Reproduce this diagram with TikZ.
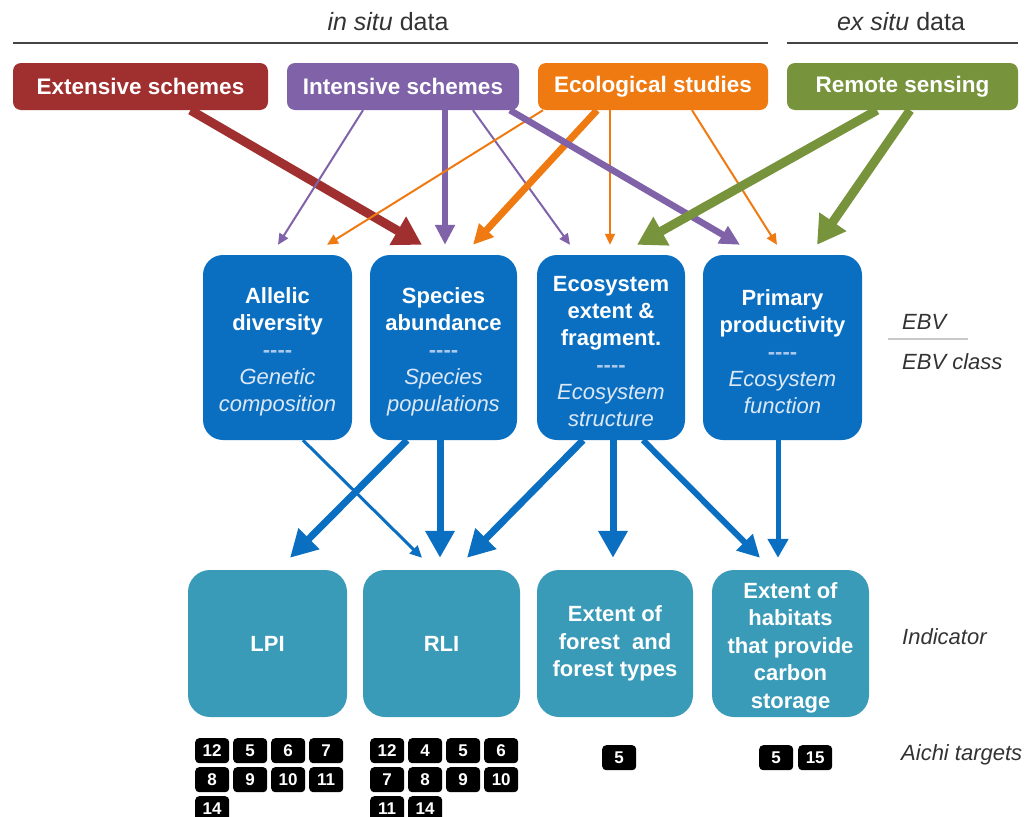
\documentclass[tikz,border=0pt]{standalone}
\usepackage{fontspec}
\setmainfont{Liberation Sans}
\usetikzlibrary{arrows.meta}
\definecolor{cred}{HTML}{A0302F}
\definecolor{cpur}{HTML}{7F62A8}
\definecolor{corg}{HTML}{EF7A12}
\definecolor{cgrn}{HTML}{77933C}
\definecolor{cblue}{HTML}{0B6FC1}
\definecolor{cteal}{HTML}{3A9BB8}
\definecolor{cdash}{HTML}{A9C8EA}
\definecolor{cital}{HTML}{DCE8F6}
\definecolor{clab}{HTML}{333333}
\definecolor{cline}{HTML}{444444}
\definecolor{csep}{HTML}{C8C8C8}
\newcommand{\tallstrut}{\rule{0pt}{24pt}}
\begin{document}
\begin{tikzpicture}[x=1pt,y=-1pt,
  hdr/.style={font=\fontsize{25}{30}\selectfont, text=clab},
  hline/.style={line width=2.5pt, cline},
  src/.style={rounded corners=8pt, minimum height=47pt, text=white, inner sep=0pt,
    font=\bfseries\fontsize{22.5}{27}\selectfont},
  ebv/.style={fill=cblue, rounded corners=20pt, minimum height=185pt, text=white,
    align=center, inner sep=0pt, font=\bfseries\fontsize{22}{27}\selectfont},
  ind/.style={fill=cteal, rounded corners=22pt, minimum height=147pt, text=white,
    align=center, inner sep=0pt, font=\bfseries\fontsize{22}{27.5}\selectfont},
  aichi/.style={fill=black, rounded corners=4pt, minimum width=34pt, minimum height=25pt,
    inner sep=0pt, text=white, anchor=north west, font=\bfseries\fontsize{17}{17}\selectfont},
  lab/.style={font=\itshape\fontsize{22}{26}\selectfont, text=clab, anchor=west, inner sep=0pt},
  thinarr/.style={line width=2pt, -{Triangle[length=11pt,width=10pt]}},
  fatarr/.style={line width=9pt, -{Triangle[length=28pt,width=31pt]}},
  midarr/.style={line width=6.5pt, -{Triangle[length=20pt,width=19pt]}},
  bthick/.style={cblue, line width=7pt, -{Triangle[length=27pt,width=28pt]}},
  bmid/.style={cblue, line width=5pt, -{Triangle[length=19pt,width=20pt]}},
  bthin/.style={cblue, line width=3pt, -{Triangle[length=12pt,width=11pt]}},
]
\useasboundingbox (0,0) rectangle (1029,817);

% headers
\node[hdr] (insitu) at (388,22) {\textit{in situ} data};
\node[hdr] (exsitu) at (901,22) {\textit{ex situ} data};
\draw[hline] (13,43) -- (768,43);
\draw[hline] (787,43) -- (1018,43);

% data sources
\node[src, fill=cred, minimum width=255pt] (ext) at (140.5,86.5) {Extensive schemes};
\node[src, fill=cpur, minimum width=232pt] (int) at (403,86.5) {Intensive schemes};
\node[src, fill=corg, minimum width=230pt] (eco) at (653,86.5) {Ecological studies};
\node[src, fill=cgrn, minimum width=231pt] (rem) at (902.5,86.5) {Remote sensing};

% EBV boxes
\node[ebv, minimum width=149pt] (alle) at (277.5,347.5)
  {\tallstrut Allelic\\diversity\\{\color{cdash}-{}-{}-{}-}\\{\color{cital}\mdseries\itshape Genetic}\\{\color{cital}\mdseries\itshape composition}};
\node[ebv, minimum width=147pt] (spec) at (443.5,347.5)
  {\tallstrut Species\\abundance\\{\color{cdash}-{}-{}-{}-}\\{\color{cital}\mdseries\itshape Species}\\{\color{cital}\mdseries\itshape populations}};
\node[ebv, minimum width=148pt] (ecos) at (611,347.5)
  {\tallstrut Ecosystem\\extent \&\\fragment.\\{\color{cdash}-{}-{}-{}-}\\{\color{cital}\mdseries\itshape Ecosystem}\\{\color{cital}\mdseries\itshape structure}};
\node[ebv, minimum width=159pt] (prim) at (782.5,347.5)
  {\tallstrut Primary\\productivity\\{\color{cdash}-{}-{}-{}-}\\{\color{cital}\mdseries\itshape Ecosystem}\\{\color{cital}\mdseries\itshape function}};

% indicator boxes
\node[ind, minimum width=159pt] (lpi) at (267.5,643.5) {LPI};
\node[ind, minimum width=157pt] (rli) at (441.5,643.5) {RLI};
\node[ind, minimum width=156pt] (fore) at (615,643.5) {Extent of\\forest\ \ and\\forest types};
\node[ind, minimum width=157pt] (habi) at (790.5,643.5) {\tallstrut Extent of\\habitats\\that provide\\carbon\\storage};

% right labels
\node[lab] (lebv) at (902,322) {EBV};
\draw[csep, line width=2pt] (888,339) -- (968,339);
\node[lab] (lcls) at (902,362) {EBV class};
\node[lab] (lind) at (902,637) {Indicator};
\node[lab] (laic) at (901,755) {Aichi targets};

% arrows: sources -> EBVs
\draw[fatarr, cred] ([xshift=50pt]ext.south) -- ([xshift=-21.5pt,yshift=10pt]spec.north);
\draw[thinarr, cpur] ([xshift=-40pt]int.south) -- ([xshift=0.5pt,yshift=10pt]alle.north);
\draw[midarr, cpur] ([xshift=42pt]int.south) -- ([xshift=1.5pt,yshift=10pt]spec.north);
\draw[thinarr, cpur] ([xshift=70pt]int.south) -- ([xshift=-41pt,yshift=10pt]ecos.north);
\draw[thinarr, corg] ([xshift=-110pt]eco.south) -- ([xshift=49.5pt,yshift=10pt]alle.north);
\draw[midarr, corg, line width=7pt] ([xshift=-56pt]eco.south) -- ([xshift=29.5pt,yshift=10pt]spec.north);
\draw[thinarr, corg] ([xshift=-43pt]eco.south) -- ([xshift=-1pt,yshift=10pt]ecos.north);
\draw[thinarr, corg] ([xshift=39pt]eco.south) -- ([xshift=-5.5pt,yshift=10pt]prim.north);
\draw[midarr, cpur] ([xshift=107pt]int.south) -- ([xshift=-42.5pt,yshift=10pt]prim.north);
\draw[fatarr, cgrn] ([xshift=-25.5pt]rem.south) -- ([xshift=26pt,yshift=10pt]ecos.north);
\draw[fatarr, cgrn] ([xshift=7.5pt]rem.south) -- ([xshift=34.5pt,yshift=10pt]prim.north);

% arrows: EBVs -> indicators
\draw[bthin] ([xshift=25.5pt]alle.south) -- ([xshift=-19.5pt,yshift=12pt]rli.north);
\draw[bthick] ([xshift=-36.5pt]spec.south) -- ([xshift=22.5pt,yshift=12pt]lpi.north);
\draw[bthick] ([xshift=-3.5pt]spec.south) -- ([xshift=-1.5pt,yshift=12pt]rli.north);
\draw[bthick] ([xshift=-28pt]ecos.south) -- ([xshift=25.5pt,yshift=12pt]rli.north);
\draw[bthick] ([xshift=2pt]ecos.south) -- ([xshift=-2pt,yshift=12pt]fore.north);
\draw[bthick, line width=6pt, -{Triangle[length=22pt,width=22pt]}] ([xshift=32pt]ecos.south) -- ([xshift=-30.5pt,yshift=12pt]habi.north);
\draw[bmid] ([xshift=-4.5pt]prim.south) -- ([xshift=-12.5pt,yshift=12pt]habi.north);

% Aichi targets
\foreach \t [count=\i from 0] in {12,5,6,7,8,9,10,11,14} {
  \pgfmathtruncatemacro\cc{mod(\i,4)}
  \pgfmathtruncatemacro\rr{int(\i/4)}
  \node[aichi] (lpiT\i) at (195+38*\cc, 738+29*\rr) {\t};
}
\foreach \t [count=\i from 0] in {12,4,5,6,7,8,9,10,11,14} {
  \pgfmathtruncatemacro\cc{mod(\i,4)}
  \pgfmathtruncatemacro\rr{int(\i/4)}
  \node[aichi] (rliT\i) at (370+38*\cc, 738+29*\rr) {\t};
}
\node[aichi] (foreT0) at (602,745) {5};
\node[aichi] (habiT0) at (759,745) {5};
\node[aichi] (habiT1) at (798,745) {15};
\end{tikzpicture}
\end{document}
